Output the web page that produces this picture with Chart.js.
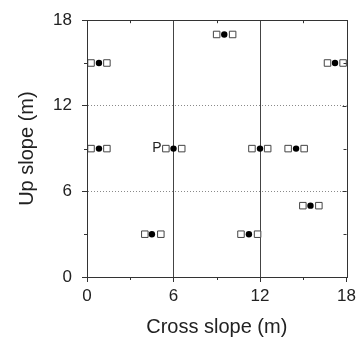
<!DOCTYPE html>
<html><head><meta charset="utf-8">
<script src="https://cdn.jsdelivr.net/npm/chart.js@4"></script>
<style>html,body{margin:0;padding:0;background:#fff}#wrap{width:360px;height:341px}</style>
</head><body><div id="wrap"><canvas id="c" width="360" height="341"></canvas></div>
<script>
const majorTicks = [0, 6, 12, 18];
const minorTicks = [3, 9, 15];
const circleX = [0.83, 9.52, 17.2, 0.83, 6.0, 12.0, 14.5, 4.5, 11.23, 15.5];
const circleY = [15, 17, 15, 9, 9, 9, 9, 3, 3, 5];
const squareLeftX = [0.28, 8.99, 16.68, 0.28, 5.47, 11.44, 13.95, 4.01, 10.68, 14.97];
const squareRightX = [1.38, 10.1, 17.76, 1.38, 6.57, 12.53, 15.06, 5.12, 11.83, 16.08];
const pointLabels = ['', '', '', '', 'P', '', '', '', '', ''];
const xTitle = 'Cross slope (m)';
const yTitle = 'Up slope (m)';

Chart.defaults.font.family = '"Liberation Sans", Arial, sans-serif';
Chart.defaults.color = '#222';

const toPts = (xs, ys) => xs.map((x, i) => ({x: x, y: ys[i]}));
const isMajor = v => majorTicks.includes(v);
const inner = v => v > 0 && v < 18 && isMajor(v);

const framePlugin = {
  id: 'frame',
  afterDraw(chart) {
    const {ctx, chartArea: a, scales} = chart;
    const xs = scales.x, ys = scales.y;
    ctx.save();
    ctx.strokeStyle = '#333';
    ctx.lineWidth = 1;
    ctx.setLineDash([]);
    ctx.strokeRect(Math.round(a.left) + 0.5, Math.round(a.top) + 0.5,
      Math.round(a.right) - Math.round(a.left), Math.round(a.bottom) - Math.round(a.top));
    ctx.beginPath();
    minorTicks.forEach(v => {
      const px = Math.round(xs.getPixelForValue(v)) + 0.5;
      const py = Math.round(ys.getPixelForValue(v)) + 0.5;
      ctx.moveTo(px, a.bottom); ctx.lineTo(px, a.bottom + 3);
      ctx.moveTo(px, a.top); ctx.lineTo(px, a.top + 3);
      ctx.moveTo(a.left, py); ctx.lineTo(a.left - 3, py);
      ctx.moveTo(a.right, py); ctx.lineTo(a.right - 3, py);
    });
    majorTicks.filter(inner).forEach(v => {
      const py = Math.round(ys.getPixelForValue(v)) + 0.5;
      ctx.moveTo(a.right, py); ctx.lineTo(a.right - 4, py);
    });
    ctx.stroke();
    const meta = chart.getDatasetMeta(2);
    ctx.fillStyle = '#222';
    ctx.font = '14px "Liberation Sans", Arial, sans-serif';
    ctx.textAlign = 'right';
    ctx.textBaseline = 'middle';
    pointLabels.forEach((t, i) => {
      if (!t) return;
      const el = meta.data[i];
      ctx.fillText(t, el.x - 12, el.y);
    });
    ctx.restore();
  }
};

new Chart(document.getElementById('c'), {
  type: 'scatter',
  data: {
    datasets: [
      {data: toPts(squareLeftX, circleY), pointStyle: 'rect', pointRadius: 4.6, pointHoverRadius: 4.6,
       backgroundColor: '#fff', borderColor: '#444', borderWidth: 1},
      {data: toPts(squareRightX, circleY), pointStyle: 'rect', pointRadius: 4.6, pointHoverRadius: 4.6,
       backgroundColor: '#fff', borderColor: '#444', borderWidth: 1},
      {data: toPts(circleX, circleY), pointStyle: 'circle', pointRadius: 3.2, pointHoverRadius: 3.2,
       backgroundColor: '#000', borderColor: '#000', borderWidth: 0}
    ]
  },
  options: {
    responsive: false,
    animation: false,
    devicePixelRatio: 1,
    clip: false,
    layout: {padding: {left: 0, right: 13, top: 13, bottom: 0}},
    plugins: {legend: {display: false}, tooltip: {enabled: false}},
    scales: {
      x: {
        type: 'linear', min: 0, max: 18,
        afterFit: s => { s.height = 64; },
        ticks: {stepSize: 3, autoSkip: false, maxRotation: 0, padding: 4,
          font: {size: 17}, color: '#222',
          callback: v => isMajor(v) ? String(v) : ''},
        grid: {
          color: c => inner(c.tick.value) ? '#444' : 'rgba(0,0,0,0)',
          tickColor: c => isMajor(c.tick.value) ? '#333' : 'rgba(0,0,0,0)',
          tickLength: 5, lineWidth: 1
        },
        border: {display: true, color: '#333', width: 1},
        title: {display: true, text: xTitle, font: {size: 20}, color: '#222', padding: {top: 0, bottom: 2}}
      },
      y: {
        type: 'linear', min: 0, max: 18,
        afterFit: s => { s.width = 87; },
        ticks: {stepSize: 3, autoSkip: false, padding: 10,
          font: {size: 17}, color: '#222',
          callback: v => isMajor(v) ? String(v) : ''},
        grid: {
          color: c => inner(c.tick.value) ? '#8a8a8a' : 'rgba(0,0,0,0)',
          tickColor: c => isMajor(c.tick.value) ? '#333' : 'rgba(0,0,0,0)',
          tickLength: 5, lineWidth: 1
        },
        border: {display: true, color: '#333', width: 1, dash: [1, 2]},
        title: {display: true, text: yTitle, font: {size: 20}, color: '#222', padding: {top: 15, bottom: 0}}
      }
    }
  },
  plugins: [framePlugin]
});
</script>
</body></html>
